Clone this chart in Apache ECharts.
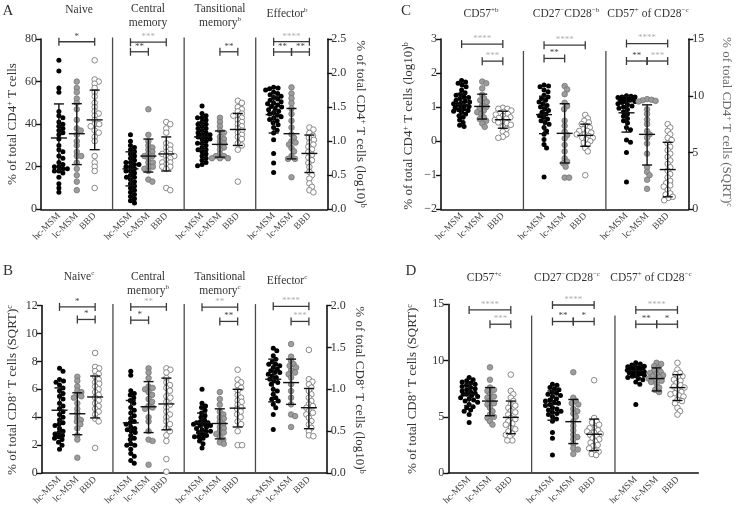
<!DOCTYPE html>
<html><head><meta charset="utf-8">
<script src="https://cdn.jsdelivr.net/npm/echarts@6/dist/echarts.min.js"></script>
<style>html,body{margin:0;padding:0;background:#fff}#c{width:736px;height:508px}</style>
</head><body><div id="c"></div>
<script>
// ---------------- DATA ----------------
const groups = ['hc-MSM', 'lc-MSM', 'BBD'];

// Panel A (CD4) – % of total, left axis 0–80; effector on log10 right axis
const A_naive_hc = [70,65,57,55,46,44,43,41,40,39,38,37,36,35,33,30,28,27,25,24,22,21,20,20,19,19,18,18,17,15,12,10,8];
const A_naive_lc = [60,57,55,52,50,47,42,38,37,35,32,30,27,25,25,22,19,16,13,9];
const A_naive_bbd = [70,61,60,59,57,55,53,50,48,46,45,44,42,40,40,39,37,36,34,32,25,22,20,18,10];
const A_naive_stats = [[33.5,18,49.5],[35.5,21,49.6],[42,28,56]];
const A_naive_sig = [[0,2,78.7,'*']];

const A_cm_hc = [35,32,30,29,28,27,26,25,24,23,22,22,21,21,20,20,19,18,18,17,16,15,15,14,13,12,11,10,9,8,7,6,5,4,3];
const A_cm_lc = [47,35,32,30,29,28,27,26,25,25,24,22,22,20,20,19,18,14,13];
const A_cm_bbd = [41,40,38,36,31,30,29,28,27,26,26,25,25,24,23,22,22,21,20,20,19,10,9];
const A_cm_stats = [[19,11,27],[25,17.5,33],[26,18,34]];
const A_cm_sig = [[0,2,78.5,'***'],[0,1,74,'**']];

const A_tm_hc = [48.5,45,44,43,43,42,41,40,40,39,38,38,37,36,36,35,35,34,34,33,33,32,31,31,30,29,28,28,27,26,25,24,23,22,21,20.5];
const A_tm_lc = [43,41,39,37,36,34,33,32,31,30,29,28,26,25,25,24,24,24];
const A_tm_bbd = [51,50,48,47,46,45,44,44,43,42,41,40,39,38,37,36,35,34,33,31,30,28,13];
const A_tm_stats = [[34,28,41],[30.5,24.5,36.8],[37.5,30,45]];
const A_tm_sig = [[1,2,74,'**']];

const A_eff_hc = [1.79,1.78,1.77,1.75,1.72,1.7,1.68,1.66,1.64,1.62,1.6,1.58,1.56,1.55,1.53,1.51,1.5,1.48,1.46,1.44,1.42,1.4,1.38,1.36,1.34,1.32,1.3,1.27,1.24,1.2,1.16,1.12,1.02,0.82,0.68,0.54];
const A_eff_lc = [1.79,1.7,1.63,1.56,1.48,1.4,1.3,1.2,1.1,1.05,1.0,0.98,0.95,0.9,0.85,0.78,0.74,0.74,0.47];
const A_eff_bbd = [1.2,1.17,1.12,1.08,1.05,1.02,0.98,0.95,0.92,0.88,0.84,0.8,0.76,0.72,0.68,0.62,0.55,0.5,0.45,0.38,0.33,0.28,0.25];
const A_eff_stats = [[1.39,1.12,1.66],[1.11,0.74,1.48],[0.82,0.54,1.09]];
const A_eff_sig = [[0,2,2.46,'****'],[0,1,2.31,'**'],[1,2,2.31,'**']];

// Panel B (CD8) – SQRT left axis 0–12; effector log10 right axis 0–2
const B_naive_hc = [7.5,7.3,6.7,6.6,6.5,6.3,6.1,5.9,5.7,5.5,5.3,5.0,4.8,4.6,4.4,4.2,4.0,3.8,3.6,3.5,3.4,3.2,3.0,2.9,2.8,2.7,2.6,2.5,2.4,2.2,2.0,1.7];
const B_naive_lc = [6.9,6.6,6.2,5.9,5.8,5.6,5.5,5.4,5.0,4.6,4.3,4.0,3.8,3.7,3.5,3.2,2.7,2.4,1.1];
const B_naive_bbd = [8.6,7.6,7.5,7.3,7.1,6.9,6.7,6.5,6.4,6.2,6.0,5.8,5.6,5.4,5.2,5.0,4.8,4.6,4.4,4.2,3.9,3.7,1.8];
const B_naive_stats = [[4.5,2.9,6.1],[4.25,2.75,5.75],[5.45,3.95,6.95]];
const B_naive_sig = [[0,2,11.9,'*'],[1,2,11.0,'*']];

const B_cm_hc = [7.3,7.0,5.9,5.7,5.6,5.4,5.2,5.0,4.7,4.5,4.3,4.1,3.9,3.7,3.6,3.5,3.3,3.2,3.1,3.0,2.9,2.7,2.5,2.4,2.1,2.0,2.0,1.7,1.4,1.2,0.9,0.7];
const B_cm_lc = [7.5,7.2,6.8,6.2,6.1,6.0,5.8,5.6,5.3,5.1,4.8,4.7,4.6,4.0,3.7,3.0,2.4,2.3,0.6];
const B_cm_bbd = [7.5,7.4,7.2,6.8,6.5,6.3,6.1,5.9,5.5,5.4,5.1,4.9,4.7,4.4,4.2,4.0,3.7,3.5,3.2,3.0,2.7,2.3,1.0,0.1];
const B_cm_stats = [[3.6,2.1,5.2],[4.75,2.9,6.55],[4.95,3.1,6.8]];
const B_cm_sig = [[0,2,11.9,'**'],[0,1,10.95,'*']];

const B_tm_hc = [6.0,5.0,4.8,4.7,4.5,4.3,4.1,4.0,3.8,3.7,3.6,3.6,3.5,3.5,3.4,3.4,3.3,3.2,3.1,3.0,3.0,2.9,2.8,2.7,2.6,2.6,2.5,2.3,2.1,1.8];
const B_tm_lc = [5.8,5.3,4.9,4.4,4.2,4.0,3.9,3.7,3.5,3.3,3.2,3.0,2.9,2.8,2.6,2.4,2.2,2.1];
const B_tm_bbd = [7.4,6.7,6.5,6.3,6.1,5.9,5.6,5.4,5.2,5.1,4.9,4.7,4.6,4.4,4.2,4.0,3.7,3.5,3.0,2.0,2.0];
const B_tm_stats = [[3.6,2.9,4.3],[3.55,2.45,4.6],[4.65,3.3,6.0]];
const B_tm_sig = [[0,2,11.88,'**'],[1,2,10.86,'**']];

const B_eff_hc = [1.49,1.46,1.4,1.36,1.33,1.3,1.3,1.28,1.26,1.24,1.22,1.2,1.2,1.18,1.16,1.14,1.12,1.1,1.08,1.06,1.0,0.98,0.94,0.9,0.88,0.86,0.82,0.78,0.7,0.52];
const B_eff_lc = [1.54,1.39,1.34,1.3,1.28,1.26,1.22,1.2,1.18,1.14,1.06,0.98,0.9,0.82,0.7,0.68,0.55];
const B_eff_bbd = [1.47,1.12,1.09,1.06,1.02,0.98,0.94,0.9,0.86,0.82,0.8,0.78,0.74,0.72,0.7,0.66,0.62,0.58,0.54,0.5,0.45,0.44];
const B_eff_stats = [[1.12,0.85,1.36],[1.08,0.82,1.36],[0.78,0.53,1.01]];
const B_eff_sig = [[0,2,1.99,'****'],[1,2,1.81,'***']];

// Panel C (CD4) – log10 left axis −2–3; CD57+ of CD28− on SQRT right axis 0–15
const C_57_hc = [1.78,1.74,1.7,1.65,1.6,1.5,1.42,1.38,1.35,1.3,1.28,1.25,1.2,1.18,1.15,1.12,1.1,1.08,1.05,1.02,1.0,0.98,0.95,0.92,0.9,0.88,0.85,0.8,0.75,0.7,0.62,0.55,0.47,0.43];
const C_57_lc = [1.75,1.7,1.55,1.36,1.25,1.2,1.15,1.05,1.0,0.95,0.9,0.85,0.8,0.7,0.65,0.6,0.52,0.42];
const C_57_bbd = [0.98,0.95,0.95,0.9,0.86,0.82,0.8,0.78,0.74,0.7,0.68,0.66,0.62,0.58,0.55,0.53,0.48,0.43,0.36,0.28,0.2,0.13,0.1];
const C_57_stats = [[1.08,0.75,1.4],[1.02,0.65,1.38],[0.63,0.38,0.88]];
const C_57_sig = [[0,2,2.85,'****'],[1,2,2.35,'***']];

const C_27_hc = [1.65,1.62,1.6,1.5,1.45,1.35,1.3,1.25,1.2,1.15,1.1,1.05,1.0,0.95,0.9,0.85,0.8,0.75,0.7,0.65,0.6,0.55,0.5,0.4,0.3,0.2,0.05,-0.1,-0.2,-1.05];
const C_27_lc = [1.62,1.52,1.38,1.13,1.03,0.94,0.6,0.45,0.28,0.18,0.08,-0.11,-0.3,-0.5,-0.6,-0.65,-0.75,-1.07,-1.07];
const C_27_bbd = [0.77,0.67,0.6,0.55,0.5,0.45,0.4,0.35,0.3,0.3,0.25,0.2,0.2,0.15,0.1,0.1,0.05,0.0,-0.05,-0.1,-0.2,-0.3,-1.0];
const C_27_stats = [[0.78,0.22,1.32],[0.23,-0.64,1.1],[0.17,-0.15,0.5]];
const C_27_sig = [[0,2,2.82,'****'],[0,1,2.43,'**']];

const C_5728_hc = [10.0,9.95,9.9,9.9,9.85,9.8,9.75,9.7,9.7,9.65,9.6,9.6,9.5,9.5,9.4,9.3,9.2,9.1,9.0,8.9,8.8,8.6,8.4,8.2,8.0,7.8,7.6,7.2,7.0,6.1,5.9,5.0,2.4];
const C_5728_lc = [9.7,9.65,9.6,9.55,9.5,8.8,8.4,7.9,7.5,6.9,6.6,6.3,5.8,4.9,3.7,3.3,3.0,2.6,1.8];
const C_5728_bbd = [7.5,7.2,6.9,6.6,6.3,6.1,5.8,5.5,5.2,4.9,4.6,4.3,4.0,3.7,3.4,3.1,2.8,2.5,2.3,2.1,2.0,1.7,1.4,1.3,1.1,1.0,0.8];
const C_5728_stats = [[8.5,6.8,9.95],[6.6,3.9,9.2],[3.5,1.1,5.9]];
const C_5728_sig = [[0,2,14.6,'****'],[0,1,13.06,'**'],[1,2,13.06,'***']];

// Panel D (CD8) – SQRT left axis 0–15
const D_57_hc = [8.5,8.3,8.2,8.1,8.0,7.9,7.8,7.7,7.6,7.5,7.4,7.3,7.2,7.1,7.0,7.0,6.9,6.8,6.7,6.6,6.5,6.4,6.3,6.1,5.9,5.8,5.6,5.5,5.2,4.5];
const D_57_lc = [9.4,8.3,7.6,7.4,7.3,7.0,6.8,6.7,6.4,6.2,6.1,5.8,5.5,5.2,5.0,4.9,4.6,4.3];
const D_57_bbd = [8.75,7.3,7.0,6.7,6.4,6.1,6.0,5.8,5.5,5.4,5.2,4.9,4.8,4.6,4.4,4.3,4.0,3.9,3.7,3.5,3.4,3.2,2.9,2.9];
const D_57_stats = [[7.0,6.0,7.9],[6.4,5.1,7.6],[4.95,3.5,6.4]];
const D_57_sig = [[0,2,14.5,'****'],[1,2,13.23,'***']];

const D_27_hc = [7.9,7.8,7.6,7.5,7.4,7.2,7.1,7.0,6.9,6.8,6.6,6.5,6.4,6.3,6.2,6.1,6.0,5.8,5.7,5.6,5.5,5.4,5.3,5.2,5.0,4.8,4.6,3.6,3.1,1.6];
const D_27_lc = [8.96,6.7,6.4,6.2,6.1,5.7,5.5,5.3,5.0,4.6,4.2,3.8,3.4,3.2,3.0,2.6,2.2,2.1,1.7];
const D_27_bbd = [8.25,4.9,4.6,4.5,4.3,4.0,4.0,3.8,3.7,3.6,3.5,3.4,3.3,3.1,3.0,2.8,2.7,2.5,2.4,2.2,2.0,1.9,1.7,1.6];
const D_27_stats = [[6.1,4.7,7.3],[4.57,2.62,6.54],[3.45,2.0,4.8]];
const D_27_sig = [[0,2,14.94,'****'],[0,1,13.47,'**'],[1,2,13.47,'*']];

const D_5728_hc = [9.8,9.7,9.6,9.5,9.45,9.4,9.35,9.3,9.3,9.25,9.2,9.15,9.1,9.1,9.05,9.0,8.95,8.9,8.9,8.85,8.8,8.7,8.7,8.6,8.5,8.4,8.3,8.1,7.9,6.1];
const D_5728_lc = [9.8,9.7,9.5,9.3,9.1,9.0,8.9,8.8,8.7,8.6,8.5,8.4,8.3,8.2,8.1,7.9,7.6,7.4,7.2];
const D_5728_bbd = [9.8,9.2,8.9,8.8,8.6,8.5,8.3,8.2,8.0,7.8,7.7,7.6,7.4,7.2,7.1,7.0,6.9,6.8,6.5,6.4,6.2,5.8,5.5,5.2];
const D_5728_stats = [[9.1,8.5,9.6],[8.4,7.3,9.35],[7.6,6.45,8.75]];
const D_5728_sig = [[0,2,14.5,'****'],[0,1,13.23,'**'],[1,2,13.23,'*']];

// ---------------- LAYOUT / STYLE ----------------
const FONT = "'Liberation Serif','DejaVu Serif',serif";
const grids = [
  {left:41, top:39, right:327.3, bottom:209.3, xmax:16},
  {left:41.7, top:305.5, right:326.7, bottom:474.3, xmax:16},
  {left:441, top:39, right:688.3, bottom:209.3, xmax:12},
  {left:448.3, top:304.3, right:698.3, bottom:474, xmax:12}
];
const yCfg = [
  {grid:0, pos:'left', min:0, max:80, interval:20},
  {grid:0, pos:'right', min:0, max:2.5, interval:0.5, dec:1},
  {grid:1, pos:'left', min:0, max:12, interval:2},
  {grid:1, pos:'right', min:0, max:2, interval:0.5, dec:1},
  {grid:2, pos:'left', min:-2, max:3, interval:1},
  {grid:2, pos:'right', min:0, max:15, interval:5},
  {grid:3, pos:'left', min:0, max:15, interval:5}
];
const sepCfg = [
  {grid:0, y:0, xs:[4,8,12], top:80.7},
  {grid:1, y:2, xs:[4,8,12], top:12.1},
  {grid:2, y:4, xs:[4,8], top:2.65},
  {grid:3, y:6, xs:[4,8], top:14.0}
];
const panels = [
  {grid:0,y:0,slot:0,d:[A_naive_hc,A_naive_lc,A_naive_bbd],st:A_naive_stats,sig:A_naive_sig,light:[0]},
  {grid:0,y:0,slot:1,d:[A_cm_hc,A_cm_lc,A_cm_bbd],st:A_cm_stats,sig:A_cm_sig,light:[1,0]},
  {grid:0,y:0,slot:2,d:[A_tm_hc,A_tm_lc,A_tm_bbd],st:A_tm_stats,sig:A_tm_sig,light:[0]},
  {grid:0,y:1,slot:3,d:[A_eff_hc,A_eff_lc,A_eff_bbd],st:A_eff_stats,sig:A_eff_sig,light:[1,0,0]},
  {grid:1,y:2,slot:0,d:[B_naive_hc,B_naive_lc,B_naive_bbd],st:B_naive_stats,sig:B_naive_sig,light:[0,0]},
  {grid:1,y:2,slot:1,d:[B_cm_hc,B_cm_lc,B_cm_bbd],st:B_cm_stats,sig:B_cm_sig,light:[1,0]},
  {grid:1,y:2,slot:2,d:[B_tm_hc,B_tm_lc,B_tm_bbd],st:B_tm_stats,sig:B_tm_sig,light:[1,0]},
  {grid:1,y:3,slot:3,d:[B_eff_hc,B_eff_lc,B_eff_bbd],st:B_eff_stats,sig:B_eff_sig,light:[1,1]},
  {grid:2,y:4,slot:0,d:[C_57_hc,C_57_lc,C_57_bbd],st:C_57_stats,sig:C_57_sig,light:[1,1]},
  {grid:2,y:4,slot:1,d:[C_27_hc,C_27_lc,C_27_bbd],st:C_27_stats,sig:C_27_sig,light:[1,0]},
  {grid:2,y:5,slot:2,d:[C_5728_hc,C_5728_lc,C_5728_bbd],st:C_5728_stats,sig:C_5728_sig,light:[1,0,1]},
  {grid:3,y:6,slot:0,d:[D_57_hc,D_57_lc,D_57_bbd],st:D_57_stats,sig:D_57_sig,light:[1,1]},
  {grid:3,y:6,slot:1,d:[D_27_hc,D_27_lc,D_27_bbd],st:D_27_stats,sig:D_27_sig,light:[1,0,0]},
  {grid:3,y:6,slot:2,d:[D_5728_hc,D_5728_lc,D_5728_bbd],st:D_5728_stats,sig:D_5728_sig,light:[1,0,0]}
];
const dotStyle = [
  {size:5, color:'#000', borderColor:'#000', borderWidth:0},
  {size:5.6, color:'#9c9c9c', borderColor:'#707070', borderWidth:0.7},
  {size:5.6, color:'#fff', borderColor:'#7c7c7c', borderWidth:0.9}
];
const SWARM_D = 4.2, SWARM_MAX = 8.5;

// beeswarm offsets (pixels), deterministic from the values; bounded width
function swarm(vals, pxPerY){
  const order = vals.map((v,i)=>[v,i]).sort((a,b)=>b[0]-a[0]);
  const placed = []; const off = new Array(vals.length).fill(0);
  for (const [v,i] of order){
    const y = v*pxPerY; let best = 0, bestScore = -1;
    const nCand = Math.floor(SWARM_MAX/0.5)*2+1;
    for (let k=0;k<nCand;k++){
      const c = k===0 ? 0 : (k%2 ? 1 : -1)*Math.ceil(k/2)*0.5;
      let minD = Infinity;
      for (const p of placed){ const dx=c-p[0], dy=y-p[1]; minD = Math.min(minD, Math.sqrt(dx*dx+dy*dy)); }
      if (minD >= SWARM_D){ best=c; bestScore=Infinity; break; }
      if (minD > bestScore + 0.3){ bestScore=minD; best=c; }
    }
    placed.push([best,y]); off[i]=best;
  }
  return off;
}

const series = [];
panels.forEach(p=>{
  const g = grids[p.grid], ya = yCfg[p.y];
  const pxY = (g.bottom-g.top)/(ya.max-ya.min);
  const pxX = (g.right-g.left)/g.xmax;
  p.d.forEach((vals,gi)=>{
    const cx = p.slot*4+1+gi;
    const off = swarm(vals, pxY);
    const s = dotStyle[gi];
    series.push({type:'scatter', xAxisIndex:p.grid, yAxisIndex:p.y, symbol:'circle', symbolSize:s.size,
      itemStyle:{color:s.color, borderColor:s.borderColor, borderWidth:s.borderWidth, opacity:1},
      data: vals.map((v,i)=>[cx+off[i]/pxX, v]), z:2, silent:true});
  });
  // mean ± SD
  series.push({type:'custom', xAxisIndex:p.grid, yAxisIndex:p.y, z:5, silent:true,
    data: p.st.map((s,gi)=>[p.slot*4+1+gi, s[0], s[1], s[2]]),
    encode:{x:0, y:[1,2,3]},
    renderItem:(params, api)=>{
      const x=api.value(0);
      const pm=api.coord([x,api.value(1)]), pl=api.coord([x,api.value(2)]), ph=api.coord([x,api.value(3)]);
      const st={stroke:'#111', lineWidth:1.4};
      return {type:'group', children:[
        {type:'line', shape:{x1:pm[0]-8,y1:pm[1],x2:pm[0]+8,y2:pm[1]}, style:st},
        {type:'line', shape:{x1:pl[0],y1:pl[1],x2:ph[0],y2:ph[1]}, style:st},
        {type:'line', shape:{x1:pl[0]-5,y1:pl[1],x2:pl[0]+5,y2:pl[1]}, style:st},
        {type:'line', shape:{x1:ph[0]-5,y1:ph[1],x2:ph[0]+5,y2:ph[1]}, style:st}
      ]};
    }});
  // significance brackets
  const sig = p.sig, light = p.light;
  series.push({type:'custom', xAxisIndex:p.grid, yAxisIndex:p.y, z:6, silent:true,
    data: sig.map(s=>[p.slot*4+1+s[0], s[2], p.slot*4+1+s[1]]),
    encode:{x:[0,2], y:1},
    renderItem:(params, api)=>{
      const a=api.coord([api.value(0),api.value(1)]), b=api.coord([api.value(2),api.value(1)]);
      const lt = light[params.dataIndex];
      const st={stroke:'#3a3a3a', lineWidth:1.3};
      return {type:'group', children:[
        {type:'line', shape:{x1:a[0],y1:a[1],x2:b[0],y2:b[1]}, style:st},
        {type:'line', shape:{x1:a[0],y1:a[1]-4,x2:a[0],y2:a[1]+4}, style:st},
        {type:'line', shape:{x1:b[0],y1:b[1]-4,x2:b[0],y2:b[1]+4}, style:st},
        {type:'text', x:(a[0]+b[0])/2, y:a[1]-1, style:{text:sig[params.dataIndex][3], fill: lt?'#b0b0b0':'#444',
          font:'9px '+FONT, align:'center', verticalAlign:'bottom'}}
      ]};
    }});
});
// subpanel separators
sepCfg.forEach(s=>{
  const ya = yCfg[s.y];
  series.push({type:'custom', xAxisIndex:s.grid, yAxisIndex:s.y, z:1, silent:true,
    data: s.xs.map(x=>[x, ya.min, s.top]), encode:{x:0, y:[1,2]},
    renderItem:(params, api)=>{
      const a=api.coord([api.value(0),api.value(1)]), b=api.coord([api.value(0),api.value(2)]);
      return {type:'line', shape:{x1:a[0],y1:a[1],x2:b[0],y2:b[1]}, style:{stroke:'#4a4a4a', lineWidth:1.3}};
    }});
});

const option = {
  animation:false,
  backgroundColor:'#fff',
  grid: grids.map(g=>({left:g.left, top:g.top, width:g.right-g.left, height:g.bottom-g.top, containLabel:false})),
  xAxis: grids.map((g,i)=>({gridIndex:i, type:'value', min:0, max:g.xmax, interval:1, position:'bottom',
    axisLine:{show:true, onZero:false, lineStyle:{color:'#111', width:1.6}}, axisTick:{show:false}, splitLine:{show:false},
    axisLabel:{rotate:45, fontFamily:FONT, fontSize:9.5, color:'#444', margin:5,
      formatter:v=>{const k=Math.round(v)%4; return k===0?'':groups[k-1];}}})),
  yAxis: yCfg.map(y=>({gridIndex:y.grid, type:'value', position:y.pos, min:y.min, max:y.max, interval:y.interval,
    axisLine:{show:true, onZero:false, lineStyle:{color:'#111', width:1.6}},
    axisTick:{show:true, length:5, lineStyle:{color:'#111', width:1.4}}, splitLine:{show:false},
    axisLabel:{fontFamily:FONT, fontSize:12, color:'#333', margin:4,
      formatter:v=> (y.dec? v.toFixed(y.dec) : String(v)).replace('-','\u2212')}})),
  series: series,
  graphic: []
};

// text elements
function txt(x,y,text,size,opts){
  opts = opts||{};
  return {type:'text', x:x, y:y, rotation:opts.rot||0, silent:true,
    style:{text:text, fontFamily:FONT, fontSize:size, fill:opts.fill||'#333', align:'center', verticalAlign:'middle',
      lineHeight:opts.lh||14,
      rich:{sup:{fontSize:Math.round(size*0.65), fontFamily:FONT, fill:opts.fill||'#333', verticalAlign:'top', lineHeight:size}}}};
}
const G = option.graphic;
G.push(txt(8,11,'A',15), txt(8,271,'B',15), txt(406,11,'C',15), txt(411,271,'D',15));
// subpanel titles
G.push(txt(79,10,'Naive',11.5), txt(148,16,'Central\nmemory',11.5), txt(220,16,'Tansitional\nmemory{sup|b}',11.5), txt(287,14,'Effector{sup|b}',11.5));
G.push(txt(79,277,'Naive{sup|c}',11.5), txt(148,284,'Central\nmemory{sup|b}',11.5), txt(220,284,'Tansitional\nmemory{sup|c}',11.5), txt(287,281,'Effector{sup|c}',11.5));
G.push(txt(481,14,'CD57{sup|+b}',11.5), txt(566,14,'CD27{sup|\u2212}CD28{sup|\u2212b}',11.5), txt(648,14,'CD57{sup|+} of CD28{sup|\u2212c}',11.5));
G.push(txt(484,278,'CD57{sup|+c}',11.5), txt(567,278,'CD27{sup|\u2212}CD28{sup|\u2212c}',11.5), txt(651,278,'CD57{sup|+} of CD28{sup|\u2212c}',11.5));
// axis titles
G.push(txt(13,124,'% of total CD4{sup|+} T cells',13,{rot:Math.PI/2}));
G.push(txt(360,124,'% of total CD4{sup|+} T cells (log10){sup|b}',13,{rot:-Math.PI/2}));
G.push(txt(13,390,'% of total CD8{sup|+} T cells (SQRT){sup|c}',13,{rot:Math.PI/2}));
G.push(txt(359,390,'% of total CD8{sup|+} T cells (log10){sup|b}',13,{rot:-Math.PI/2}));
G.push(txt(409,126,'% of total CD4{sup|+} T cells (log10){sup|b}',13,{rot:Math.PI/2}));
G.push(txt(726,122,'% of total CD4{sup|+} T cells (SQRT){sup|c}',13,{rot:-Math.PI/2, fill:'#666'}));
G.push(txt(413,389,'% of total CD8{sup|+} T cells (SQRT){sup|c}',13,{rot:Math.PI/2}));

const chart = echarts.init(document.getElementById('c'), null, {renderer:'canvas'});
chart.setOption(option);
</script>
</body></html>
